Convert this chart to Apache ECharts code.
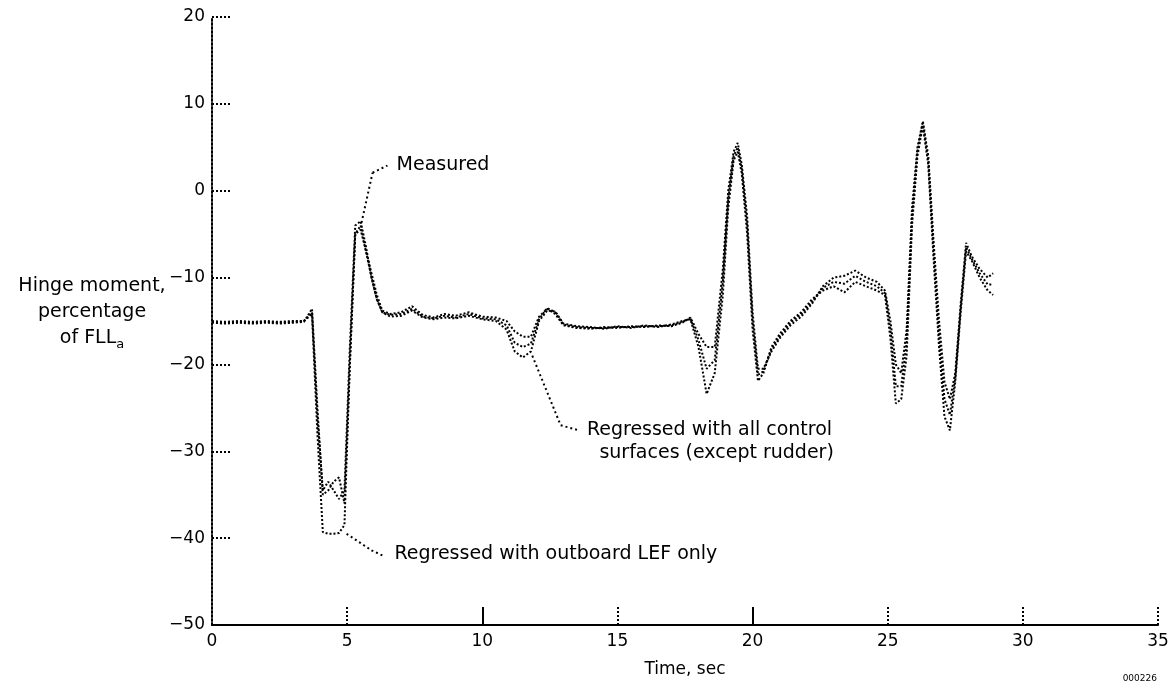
<!DOCTYPE html>
<html>
<head>
<meta charset="utf-8">
<script src="https://cdn.jsdelivr.net/npm/echarts@6/dist/echarts.min.js"></script>
<style>
html,body{margin:0;padding:0;background:#fff;}
#c{width:1175px;height:687px;}
</style>
</head>
<body>
<div id="c"></div>
<script>
// ---- data ----
var time = [0,0.5,1,1.5,2,2.5,3,3.4,
  3.7,3.9,4.1,4.3,4.5,4.7,4.9,
  5.1,5.3,5.5,5.7,5.9,6.1,6.3,
  6.6,7.0,7.4,7.8,8.2,8.6,9.0,
  9.5,10.0,10.5,10.9,11.2,11.5,11.8,
  12.1,12.4,12.7,13.0,13.5,14,14.5,
  15,15.5,16,16.5,17,17.4,17.7,
  18.0,18.3,18.6,18.9,19.1,19.3,19.45,
  19.6,19.8,20.0,20.2,20.4,20.7,21.0,
  21.4,21.8,22.2,22.6,23.0,23.4,23.8,
  24.2,24.6,24.9,25.1,25.3,25.5,25.7,
  25.9,26.1,26.3,26.5,26.7,26.9,27.1,
  27.3,27.5,27.7,27.9,28.1,28.4,28.7,
  28.9];

var measured = [-15.2,-15.3,-15.2,-15.3,-15.2,-15.3,-15.2,-15.1,
  -13.6,-25,-35,-34.5,-33.5,-33,-36,
  -20,-5,-4,-7,-9.5,-12,-13.8,
  -14.2,-14.0,-13.3,-14.3,-14.6,-14.2,-14.4,
  -14.0,-14.5,-14.6,-15.0,-16.2,-16.8,-16.8,
  -14.5,-13.6,-14.2,-15.5,-15.8,-15.9,-15.7,
  -15.8,-15.6,-15.7,-15.5,-15.6,-15.2,-14.6,
  -16.5,-18,-18,-9,0,4.5,5.5,
  3,-3,-14,-20.5,-20.5,-18.5,-17,
  -15.5,-14.5,-13,-11,-10,-9.8,-9.2,
  -10,-10.5,-11.5,-15,-20,-21,-16,
  -2,5,8,4,-6,-15,-22,
  -24,-21,-13,-6,-7.5,-9,-10,
  -9.5];

var regressedAll = [-15.0,-15.1,-15.0,-15.1,-15.0,-15.1,-15.0,-15.0,
  -14.0,-26,-34.5,-33.5,-34.5,-35.5,-34.5,
  -18,-4,-3.5,-6.5,-10,-12.5,-14,
  -14.5,-14.4,-13.8,-14.6,-14.8,-14.6,-14.7,
  -14.4,-14.8,-15.0,-16.0,-18.5,-19.2,-18.5,
  -15,-13.8,-13.9,-15.3,-15.6,-15.7,-15.9,
  -15.6,-15.8,-15.5,-15.7,-15.4,-15.0,-14.8,
  -18,-23.4,-21,-12,-2,3.5,4.5,
  2,-5,-16,-21.9,-21,-18,-16.5,
  -15,-14,-12.5,-11.5,-11,-11.7,-10.5,
  -11,-11.5,-12,-17,-24.5,-24,-19,
  -4,4,7.5,3,-8,-18,-26,
  -27.6,-22,-14,-7,-8,-10,-11.5,
  -12];

var regressedLEF = [-15.1,-15.2,-15.1,-15.2,-15.1,-15.2,-15.1,-15.0,
  -14.2,-28,-39.3,-39.5,-39.5,-39.4,-38.5,
  -20,-5,-4.5,-7,-10,-12.5,-14,
  -14.3,-14.2,-13.6,-14.5,-14.7,-14.4,-14.6,
  -14.2,-14.7,-14.8,-15.5,-17.5,-18.0,-17.6,
  -14.8,-13.5,-14.0,-15.4,-15.7,-15.8,-15.8,
  -15.7,-15.7,-15.6,-15.6,-15.5,-15.1,-14.7,
  -17.2,-20.5,-19.5,-10.5,-1,4,5,
  2.5,-4,-15,-21.2,-20.8,-18.2,-16.8,
  -15.2,-14.2,-12.8,-11.2,-10.5,-10.7,-9.8,
  -10.5,-11,-11.8,-16,-22.5,-22.5,-17.5,
  -3,4.5,7.8,3.5,-7,-16.5,-24,
  -25.8,-21.5,-13.5,-6.5,-7.8,-9.5,-10.8,
  -10.8];

var xTicks = [0,5,10,15,20,25,30,35];
var yTicks = [-50,-40,-30,-20,-10,0,10,20];

// annotation leader lines (data coordinates)
var leaderMeasured = [[5.53,-3.7],[5.94,2.07],[6.49,2.9]];
var leaderAll = [[11.85,-19.0],[12.9,-27.0],[13.58,-27.6]];
var leaderLEF = [[4.98,-39.5],[5.9,-41.4],[6.38,-42.1]];

var FONT = 'DejaVu Sans';

function pairs(t, v){ return t.map(function(x,i){ return [x, v[i]]; }); }
function segs(pts){
  var out=[];
  for(var i=0;i<pts.length-1;i++) out.push([{coord:pts[i]},{coord:pts[i+1]}]);
  return out;
}
function fmtY(v){ return v<0 ? '\u2212' + Math.abs(v) : String(v); }

var lineStyleBase = {color:'#000', width:2, type:[2,2]};

var chart = echarts.init(document.getElementById('c'), null, {renderer:'canvas'});
chart.setOption({
  animation:false,
  backgroundColor:'#fff',
  title:{
    text:'Hinge moment,\npercentage\nof FLL{sub|a}',
    left:87, top:268, textAlign:'center',
    textStyle:{fontFamily:FONT, fontSize:19, fontWeight:'normal', color:'#000', lineHeight:26,
      rich:{sub:{fontFamily:FONT, fontSize:13, color:'#000', verticalAlign:'bottom', padding:[9,0,0,0]}}}
  },
  grid:{left:212, right:17, top:17, bottom:62, containLabel:false},
  xAxis:[{
    type:'value', min:0, max:35, interval:5,
    name:'Time, sec', nameLocation:'middle', nameGap:36,
    nameTextStyle:{fontFamily:FONT, fontSize:17, color:'#000'},
    axisLine:{show:true, onZero:false, lineStyle:{color:'#000', width:2}},
    axisTick:{show:true, inside:true, length:18, customValues:[5,15,25,30,35],
      lineStyle:{color:'#000', width:2, type:[2,2]}},
    axisLabel:{fontFamily:FONT, fontSize:17, color:'#000', margin:8,
      customValues:xTicks},
    splitLine:{show:false}
  },{
    type:'value', min:0, max:35, interval:5, position:'bottom',
    axisLine:{show:false, onZero:false},
    axisTick:{show:true, inside:true, length:18, customValues:[10,20],
      lineStyle:{color:'#000', width:2}},
    axisLabel:{show:false},
    splitLine:{show:false}
  }],
  yAxis:{
    type:'value', min:-50, max:20, interval:10,
    axisLine:{show:true, onZero:false, lineStyle:{color:'#000', width:2, type:[2,2]}},
    axisTick:{show:true, inside:true, length:20, lineStyle:{color:'#000', width:2, type:[2,2]}},
    axisLabel:{fontFamily:FONT, fontSize:17, color:'#000', margin:7, formatter:fmtY,
      customValues:yTicks},
    splitLine:{show:false}
  },
  series:[{
    name:'Measured', type:'line', data:pairs(time, measured),
    showSymbol:false, symbol:'none', lineStyle:lineStyleBase,
    markLine:{silent:true, symbol:['none','none'], label:{show:false},
      lineStyle:{color:'#000', width:2, type:[2,3]},
      data:segs(leaderMeasured).concat(segs(leaderAll)).concat(segs(leaderLEF))},
    markPoint:{silent:true, symbol:'circle', symbolSize:0,
      label:{show:true, position:'inside', align:'left', verticalAlign:'middle',
        fontFamily:FONT, fontSize:19, color:'#000'},
      data:[
        {coord:[6.83,2.9], label:{formatter:'Measured'}},
        {coord:[13.87,-27.6], label:{formatter:'Regressed with all control'}},
        {coord:[18.67,-30.26], label:{formatter:'surfaces (except rudder)', align:'center'}},
        {coord:[6.75,-41.8], label:{formatter:'Regressed with outboard LEF only'}}
      ]}
  },{
    name:'Regressed with all control surfaces (except rudder)', type:'line',
    data:pairs(time, regressedAll), showSymbol:false, symbol:'none', lineStyle:lineStyleBase
  },{
    name:'Regressed with outboard LEF only', type:'line',
    data:pairs(time, regressedLEF), showSymbol:false, symbol:'none', lineStyle:lineStyleBase
  }],
  graphic:[{
    type:'text', right:18, bottom:4,
    style:{text:'000226', fontFamily:FONT, fontSize:9, fill:'#000'}
  }]
});
</script>
</body>
</html>
